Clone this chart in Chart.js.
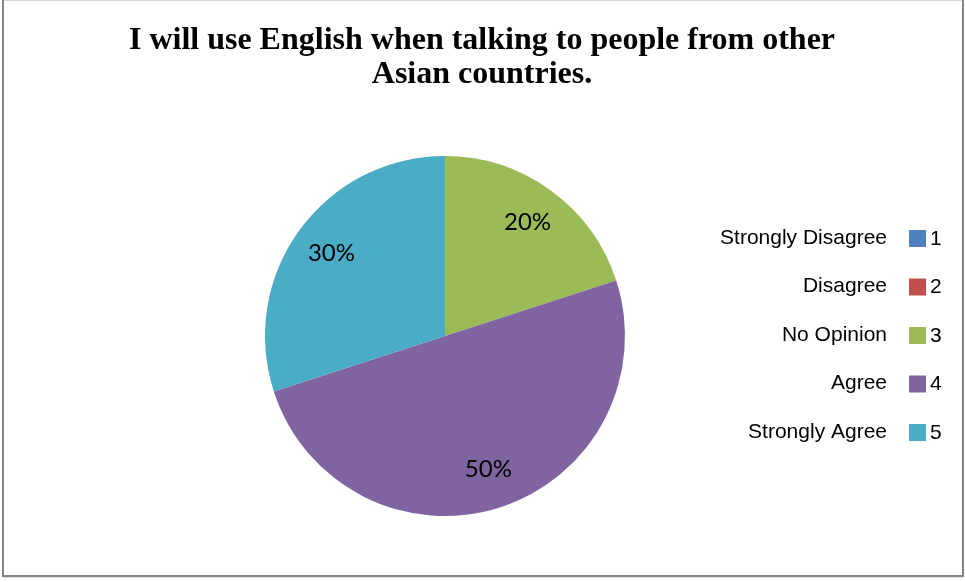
<!DOCTYPE html>
<html>
<head>
<meta charset="utf-8">
<script src="https://cdn.jsdelivr.net/npm/chart.js@4.4.1/dist/chart.umd.min.js"></script>
<style>
  html, body { margin: 0; padding: 0; background: #fff; overflow: hidden; }
  canvas { display: block; }
</style>
</head>
<body>
<canvas id="opinion" width="965" height="582"></canvas>
<script>
// survey answers for this question
var categories = ['Strongly Disagree', 'Disagree', 'No Opinion', 'Agree', 'Strongly Agree'];
var codes = ['1', '2', '3', '4', '5'];
var percents = [0, 0, 20, 50, 30];
var colors = ['#4F81BD', '#C0504D', '#9BBB59', '#8064A2', '#4BACC6'];
var titleLines = ['I will use English when talking to people from other', 'Asian countries.'];

// frame, title, slice labels and the legend on the right
var decor = {
  id: 'decor',
  beforeDraw: function (chart) {
    var ctx = chart.ctx;
    ctx.save();
    ctx.fillStyle = '#fff';
    ctx.fillRect(0, 0, chart.width, chart.height);
    ctx.fillStyle = '#d9d9d9';
    ctx.fillRect(4, 0, 958, 1);
    ctx.fillRect(4, 577, 958, 1);
    ctx.fillStyle = '#868686';
    ctx.fillRect(2, 0, 2, 577);
    ctx.fillRect(2, 575, 962, 2);
    ctx.fillRect(962, 0, 2, 577);
    ctx.restore();
  },
  afterDatasetsDraw: function (chart) {
    var ctx = chart.ctx;
    ctx.save();

    // title
    ctx.fillStyle = '#000';
    ctx.textAlign = 'center';
    ctx.textBaseline = 'alphabetic';
    ctx.font = 'bold 32px "Liberation Serif", "Times New Roman", serif';
    titleLines.forEach(function (line, i) {
      ctx.fillText(line, 482, 49 + i * 34);
    });

    // percentage labels inside the slices
    var meta = chart.getDatasetMeta(0);
    var total = percents.reduce(function (a, b) { return a + b; }, 0);
    ctx.font = '24px Lato, "Open Sans", sans-serif';
    ctx.textBaseline = 'middle';
    meta.data.forEach(function (arc, i) {
      if (!percents[i]) return;
      var p = arc.getProps(['x', 'y', 'startAngle', 'endAngle', 'outerRadius'], true);
      var mid = (p.startAngle + p.endAngle) / 2;
      var r = p.outerRadius * 0.78;
      var txt = Math.round(percents[i] / total * 100) + '%';
      ctx.fillText(txt, p.x + Math.cos(mid) * r, p.y + Math.sin(mid) * r);
    });

    // legend: name, colour box, code
    ctx.font = '21px "Liberation Sans", Arial, sans-serif';
    categories.forEach(function (name, i) {
      var y = 238 + i * 48.5;
      ctx.fillStyle = '#000';
      ctx.textAlign = 'right';
      ctx.fillText(name, 887, y);
      ctx.fillStyle = colors[i];
      ctx.fillRect(909, y - 8, 17, 17);
      ctx.fillStyle = '#000';
      ctx.textAlign = 'left';
      ctx.fillText(codes[i], 930, y + 1);
    });

    ctx.restore();
  }
};

new Chart(document.getElementById('opinion'), {
  type: 'pie',
  data: {
    labels: categories,
    datasets: [{
      data: percents,
      backgroundColor: colors,
      borderWidth: 0,
      hoverOffset: 0,
      offset: 0
    }]
  },
  options: {
    responsive: false,
    animation: false,
    events: [],
    layout: {
      padding: { left: 265, right: 340, top: 156, bottom: 66 }
    },
    plugins: {
      legend: { display: false },
      title: { display: false },
      tooltip: { enabled: false }
    }
  },
  plugins: [decor]
});
</script>
</body>
</html>
